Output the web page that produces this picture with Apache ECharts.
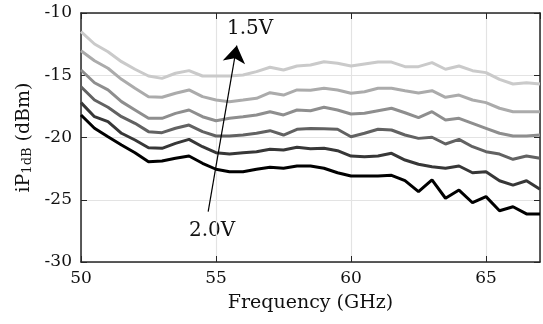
<!DOCTYPE html>
<html>
<head>
<meta charset="utf-8">
<script src="https://cdn.jsdelivr.net/npm/echarts@6/dist/echarts.min.js"></script>
<style>
  html, body { margin: 0; padding: 0; background: #fff; }
  #chart { width: 543px; height: 324px; }
</style>
</head>
<body>
<div id="chart"></div>
<script>
// frequency points (GHz)
const freq = [50, 50.5, 51, 51.5, 52, 52.5, 53, 53.5, 54, 54.5, 55, 55.5, 56, 56.5, 57, 57.5,
    58, 58.5, 59, 59.5, 60, 60.5, 61, 61.5, 62, 62.5, 63, 63.5, 64, 64.5, 65, 65.5, 66, 66.5, 67]

// iP1dB (dBm), supply 1.5V (top) ... 2.0V (bottom)
const v15 = [-11.5, -12.49, -13.11, -13.91, -14.52, -15.06, -15.25, -14.84, -14.63, -15.06, -15.06, -15.06,
    -14.98, -14.71, -14.36, -14.58, -14.26, -14.18, -13.91, -14.04, -14.26, -14.1, -13.94, -13.94, -14.31,
    -14.31, -13.99, -14.52, -14.26, -14.63, -14.79, -15.33, -15.7, -15.6, -15.7]
const v16 = [-13.03, -13.83, -14.44, -15.33, -16.05, -16.72, -16.77, -16.45, -16.18, -16.72, -16.99, -17.12,
    -16.99, -16.85, -16.4, -16.59, -16.18, -16.2, -16.05, -16.18, -16.45, -16.32, -16.05, -16.05, -16.24,
    -16.42, -16.24, -16.77, -16.59, -16.99, -17.2, -17.65, -17.93, -17.93, -17.93]
const v17 = [-14.58, -15.6, -16.18, -17.12, -17.79, -18.46, -18.46, -18.06, -17.79, -18.33, -18.65, -18.46,
    -18.33, -18.19, -17.93, -18.19, -17.79, -17.85, -17.57, -17.79, -18.11, -18.06, -17.85, -17.65, -18.01,
    -18.4, -17.93, -18.59, -18.46, -18.86, -19.26, -19.66, -19.88, -19.88, -19.8]
const v18 = [-15.92, -16.99, -17.57, -18.33, -18.86, -19.53, -19.61, -19.26, -19.0, -19.53, -19.88, -19.88,
    -19.8, -19.66, -19.45, -19.8, -19.34, -19.28, -19.29, -19.34, -19.94, -19.66, -19.34, -19.4, -19.8,
    -20.07, -19.98, -20.52, -20.15, -20.74, -21.14, -21.33, -21.75, -21.49, -21.67]
const v19 = [-17.2, -18.33, -18.73, -19.66, -20.2, -20.82, -20.87, -20.47, -20.15, -20.74, -21.22, -21.33,
    -21.22, -21.14, -20.95, -21.0, -20.79, -20.9, -20.87, -21.06, -21.49, -21.54, -21.49, -21.27, -21.81,
    -22.15, -22.35, -22.47, -22.29, -22.83, -22.75, -23.47, -23.82, -23.47, -24.16]
const v20 = [-18.19, -19.26, -19.94, -20.6, -21.22, -21.94, -21.89, -21.67, -21.49, -22.07, -22.55, -22.75,
    -22.75, -22.55, -22.39, -22.47, -22.29, -22.29, -22.47, -22.83, -23.09, -23.09, -23.09, -23.04, -23.47,
    -24.35, -23.41, -24.88, -24.22, -25.24, -24.75, -25.88, -25.56, -26.14, -26.14]

const curves = [v15, v16, v17, v18, v19, v20]
const shades = ['#cacaca', '#ababab', '#8e8e8e', '#626262', '#373737', '#000000']

// arrow from the 2.0V label up to the 1.5V label (data coords)
const arrow_from = [54.71, -25.96]
const arrow_to = [55.77, -12.62]

const font = 'DejaVu Serif'
const axis_color = '#262626'

const series = curves.map((vals, k) => ({
    type: 'line',
    data: freq.map((f, i) => [f, vals[i]]),
    showSymbol: false,
    lineStyle: { color: shades[k], width: 3 },
    z: 3 + k
}))

series.push({
    type: 'lines',
    coordinateSystem: 'cartesian2d',
    xAxisIndex: 0,
    yAxisIndex: 0,
    silent: true,
    z: 20,
    symbol: ['none', 'arrow'],
    symbolSize: 17,
    lineStyle: { color: '#000', width: 1.2, opacity: 1 },
    data: [{ coords: [arrow_from, arrow_to] }]
})

const chart = echarts.init(document.getElementById('chart'))
chart.setOption({
    animation: false,
    grid: { left: 81, right: 3, top: 13, bottom: 62 },
    xAxis: [{
        type: 'value', min: 50, max: 67, interval: 5,
        name: 'Frequency (GHz)', nameLocation: 'middle', nameGap: 32,
        nameTextStyle: { fontFamily: font, fontSize: 19, color: '#111' },
        axisLine: { lineStyle: { color: axis_color, width: 1.5 } },
        axisTick: { inside: true, length: 6, lineStyle: { color: axis_color } },
        axisLabel: { fontFamily: font, fontSize: 17, color: '#111', margin: 8,
            showMaxLabel: false },
        splitLine: { lineStyle: { color: '#e3e3e3', width: 1.2 } }
    }, {
        type: 'value', position: 'top', min: 50, max: 67, interval: 5,
        axisLine: { lineStyle: { color: axis_color, width: 1.5 } },
        axisTick: { inside: true, length: 6, lineStyle: { color: axis_color } },
        axisLabel: { show: false }, splitLine: { show: false }
    }],
    yAxis: [{
        type: 'value', min: -30, max: -10, interval: 5,
        name: '{a|iP}{b|1dB}{a| (dBm)}', nameLocation: 'middle', nameGap: 46, nameRotate: 90,
        nameTextStyle: {
            color: '#111',
            rich: {
                a: { fontFamily: font, fontSize: 19, lineHeight: 22, verticalAlign: 'bottom', color: '#111' },
                b: { fontFamily: font, fontSize: 13, lineHeight: 13, verticalAlign: 'bottom', color: '#111' }
            }
        },
        axisLine: { show: true, lineStyle: { color: axis_color, width: 1.5 } },
        axisTick: { show: true, inside: true, length: 6, lineStyle: { color: axis_color } },
        axisLabel: { fontFamily: font, fontSize: 17, color: '#111', margin: 9 },
        splitLine: { lineStyle: { color: '#e3e3e3', width: 1.2 } }
    }, {
        type: 'value', position: 'right', min: -30, max: -10, interval: 5,
        axisLine: { show: true, lineStyle: { color: axis_color, width: 1.5 } },
        axisTick: { show: true, inside: true, length: 6, lineStyle: { color: axis_color } },
        axisLabel: { show: false }, splitLine: { show: false }
    }],
    graphic: [
        { type: 'text', left: 227, top: 19,
          style: { text: '1.5V', font: '20px "DejaVu Serif"', fill: '#111' } },
        { type: 'text', left: 189, top: 221,
          style: { text: '2.0V', font: '20px "DejaVu Serif"', fill: '#111' } }
    ],
    series: series
})
</script>
</body>
</html>
